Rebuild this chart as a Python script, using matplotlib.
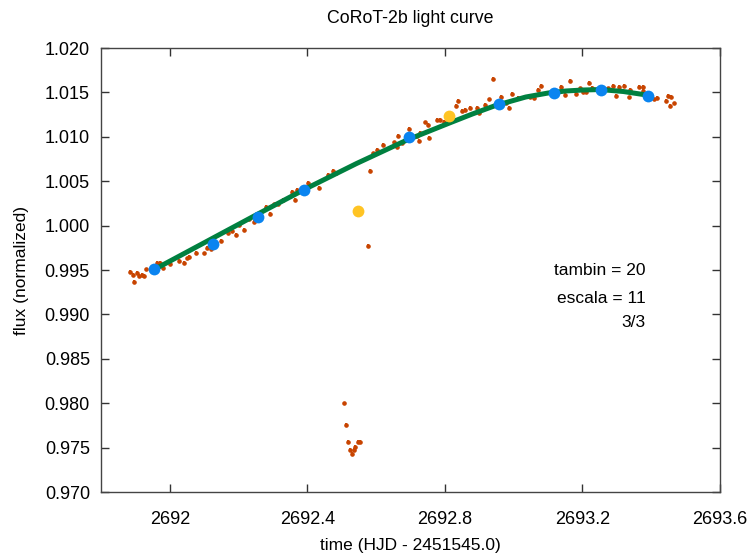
import numpy as np
import matplotlib.pyplot as plt

plt.rcParams['font.family'] = ['Liberation Sans', 'DejaVu Sans']

# datos crudos (puntos rojos)
t_raw = [2691.883, 2691.892, 2691.897, 2691.904, 2691.911, 2691.919, 2691.926, 2691.932,
         2691.963, 2691.973, 2691.980, 2692.002, 2692.026, 2692.041, 2692.049, 2692.056,
         2692.075, 2692.099, 2692.107, 2692.119, 2692.134, 2692.148, 2692.170, 2692.181,
         2692.192, 2692.202, 2692.217, 2692.231, 2692.244, 2692.280, 2692.290, 2692.304,
         2692.316, 2692.329, 2692.355, 2692.363, 2692.371, 2692.402, 2692.433, 2692.460,
         2692.475, 2692.482,
         2692.506, 2692.512, 2692.517, 2692.524, 2692.529, 2692.535, 2692.540, 2692.546,
         2692.553, 2692.576, 2692.582,
         2692.592, 2692.602, 2692.619, 2692.651, 2692.660, 2692.665, 2692.675, 2692.696,
         2692.719, 2692.724, 2692.729, 2692.743, 2692.751, 2692.755, 2692.778, 2692.787,
         2692.797, 2692.833, 2692.839, 2692.851, 2692.859, 2692.873, 2692.892, 2692.900,
         2692.917, 2692.929, 2692.941, 2692.963, 2692.977, 2692.987, 2692.995, 2693.012,
         2693.046, 2693.058, 2693.070, 2693.078, 2693.138, 2693.148, 2693.163, 2693.182,
         2693.194, 2693.202, 2693.211, 2693.219, 2693.229, 2693.275, 2693.288, 2693.298,
         2693.307, 2693.321, 2693.334, 2693.339, 2693.363, 2693.375, 2693.377, 2693.409,
         2693.416, 2693.444, 2693.449, 2693.457, 2693.454, 2693.465]
f_raw = [0.99481, 0.99444, 0.99362, 0.99470, 0.99433, 0.99444, 0.99438, 0.99506,
         0.99582, 0.99576, 0.99523, 0.99573, 0.99602, 0.99576, 0.99630, 0.99647,
         0.99692, 0.99688, 0.99751, 0.99733, 0.99808, 0.99827, 0.99922, 0.99940,
         0.99894, 1.00004, 0.99951, 1.00071, 1.00044, 1.00215, 1.00131, 1.00238,
         1.00243, 1.00288, 1.00379, 1.00288, 1.00401, 1.00485, 1.00427, 1.00570,
         1.00615, 1.00589,
         0.97999, 0.97755, 0.97560, 0.97473, 0.97428, 0.97473, 0.97510, 0.97560,
         0.97567, 0.99770, 1.00615,
         1.00814, 1.00851, 1.00908, 1.00938, 1.00882, 1.01012, 1.00927, 1.01088,
         1.01009, 1.00953, 1.01046, 1.01163, 1.01133, 1.00990, 1.01189, 1.01189,
         1.01170, 1.01350, 1.01403, 1.01291, 1.01302, 1.01328, 1.01328, 1.01265,
         1.01358, 1.01422, 1.01648, 1.01452, 1.01377, 1.01328, 1.01479, 1.01434,
         1.01452, 1.01434, 1.01527, 1.01575, 1.01564, 1.01471, 1.01628, 1.01479,
         1.01546, 1.01501, 1.01508, 1.01603, 1.01553, 1.01546, 1.01572, 1.01463,
         1.01564, 1.01575, 1.01445, 1.01527, 1.01564, 1.01564, 1.01516, 1.01422,
         1.01440, 1.01403, 1.01463, 1.01452, 1.01347, 1.01377]

# modelo ajustado (linea verde)
t_fit = [2691.958, 2692.104, 2692.251, 2692.397, 2692.543, 2692.690, 2692.813, 2692.880,
         2692.947, 2693.035, 2693.100, 2693.152, 2693.202, 2693.252, 2693.319, 2693.386]
f_fit = [0.99512, 0.99815, 1.00120, 1.00418, 1.00699, 1.00964, 1.01155, 1.01257,
         1.01352, 1.01448, 1.01493, 1.01516, 1.01527, 1.01532, 1.01510, 1.01471]

# bines
t_bin = [2691.953, 2692.125, 2692.257, 2692.391, 2692.696, 2692.956, 2693.117, 2693.254, 2693.392]
f_bin = [0.99511, 0.99793, 1.00097, 1.00401, 1.00998, 1.01369, 1.01493, 1.01527, 1.01460]

# bines descartados (amarillo)
t_out = [2692.546, 2692.813]
f_out = [1.00164, 1.01234]

fig = plt.figure(figsize=(7.47, 5.53), dpi=100)
ax = fig.add_axes([0.1352, 0.1103, 0.8287, 0.8029])

ax.errorbar(t_raw, f_raw, yerr=0.0002, fmt='o', ms=2.3, color='#c84400',
            elinewidth=1.3, capsize=0, zorder=2)
ax.plot(t_fit, f_fit, color='#008040', lw=3.6, zorder=3, solid_joinstyle='round')
ax.plot(t_bin, f_bin, 'o', ms=8.5, color='#0a84f0', mec='none', zorder=4)
ax.plot(t_out, f_out, 'o', ms=8.5, color='#ffc424', mec='none', zorder=4)

ax.set_xlim(2691.8, 2693.6)
ax.set_ylim(0.970, 1.020)
ax.set_xticks([2692, 2692.4, 2692.8, 2693.2, 2693.6])
ax.set_xticklabels(['2692', '2692.4', '2692.8', '2693.2', '2693.6'])
ax.set_yticks(np.arange(0.970, 1.0201, 0.005))
ax.set_yticklabels(['%.3f' % v for v in np.arange(0.970, 1.0201, 0.005)])
ax.tick_params(direction='in', length=6, width=1, top=True, right=True,
               labelsize=13, colors='#333333', labelcolor='black')
ax.tick_params(axis='x', pad=14)
ax.tick_params(axis='y', pad=8)
for s in ax.spines.values():
    s.set_color('#444444')
    s.set_linewidth(1)

ax.set_title('CoRoT-2b light curve', fontsize=12.8, pad=18)
ax.set_xlabel('time (HJD - 2451545.0)', fontsize=12.5, labelpad=7)
ax.set_ylabel('flux (normalized)', fontsize=12.5, labelpad=11)

ax.text(0.88, 0.50, 'tambin = 20', transform=ax.transAxes, ha='right', va='center', fontsize=12.5)
ax.text(0.88, 0.435, 'escala = 11', transform=ax.transAxes, ha='right', va='center', fontsize=12.5)
ax.text(0.88, 0.381, '3/3', transform=ax.transAxes, ha='right', va='center', fontsize=12.5)

plt.savefig('out.png', dpi=100)
